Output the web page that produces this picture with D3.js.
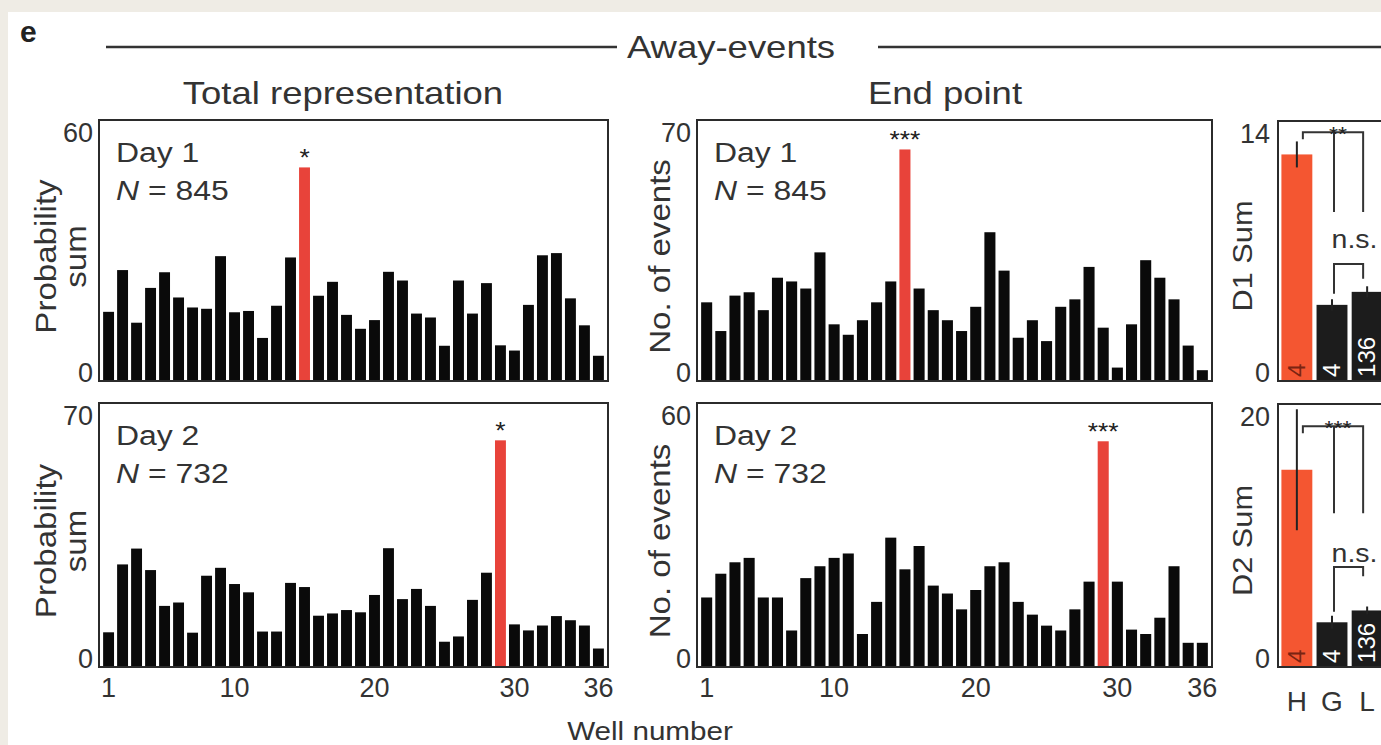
<!DOCTYPE html>
<html>
<head>
<meta charset="utf-8">
<script src="https://cdn.jsdelivr.net/npm/d3@7"></script>
<style>
  html, body { margin: 0; padding: 0; background: #fff; }
  svg { display: block; }
  text { font-family: "Liberation Sans", Arial, Helvetica, sans-serif; fill: #333; }
</style>
</head>
<body>
<script>
// well numbers (categories) and tick labels
const wells = d3.range(1, 37);
const wellTicks = [1, 10, 20, 30, 36];

// away-events, total representation (probability sum)
const totalDay1 = [15.9, 25.5, 13.4, 21.4, 25.0, 19.2, 16.9, 16.6, 28.7, 15.8,
  16.1, 9.9, 17.3, 28.4, 49.1, 19.6, 22.8, 15.2, 12.0, 14.0,
  25.1, 23.1, 15.5, 14.6, 8.1, 23.1, 15.5, 22.5, 8.2, 7.0,
  17.5, 28.9, 29.4, 19.0, 12.8, 5.8];
const totalDay2 = [9.2, 27.2, 31.4, 25.7, 16.2, 17.1, 9.1, 24.2, 26.3, 22.0,
  19.8, 9.4, 9.4, 22.3, 21.2, 13.6, 14.2, 15.1, 14.5, 19.1,
  31.5, 18.0, 20.7, 16.2, 6.7, 8.1, 17.8, 25.0, 60.1, 11.3,
  9.7, 11.0, 13.5, 12.4, 11.0, 4.9];

// away-events, end point (no. of events)
const endDay1 = [21.1, 13.4, 22.9, 23.8, 19.0, 27.7, 26.7, 24.8, 34.5, 15.2,
  12.4, 16.3, 21.1, 26.7, 62.1, 24.8, 19.0, 16.3, 13.4, 19.9,
  39.9, 29.6, 11.6, 16.3, 10.7, 19.9, 21.9, 30.6, 14.3, 3.6,
  15.2, 32.4, 27.7, 21.9, 9.5, 2.9];
const endDay2 = [15.8, 21.2, 23.8, 24.8, 15.8, 15.8, 8.3, 20.2, 22.9, 24.8,
  25.8, 7.5, 14.8, 29.4, 22.2, 27.5, 18.5, 16.7, 13.1, 17.5,
  22.9, 23.8, 14.8, 11.9, 9.4, 8.3, 13.1, 19.4, 51.3, 19.4,
  8.5, 7.5, 11.2, 22.9, 5.5, 5.5];

// summary bars H / G / L
const groups = ["H", "G", "L"];
const groupN = ["4", "4", "136"];
const d1Sum = [12.2, 4.1, 4.8];
const d1Err = [0.7, 0.3, 0.3];
const d2Sum = [15.0, 3.4, 4.3];
const d2Err = [4.6, 0.5, 0.3];

const W = 1381, H = 745;
const black = "#0a0a0a", red = "#e8433a", orange = "#f45631", frameCol = "#2b2b2b";
const SX = 1.14; // the scan's lettering is a bit wider than Liberation Sans

const svg = d3.select("body").append("svg").attr("width", W).attr("height", H);

// text helper: position, optional rotation, horizontal stretch along the text
function label(parent, o) {
  const t = parent.append("text")
    .attr("transform", `translate(${o.x},${o.y}) rotate(${o.rot || 0}) scale(${o.sx || SX},1)`)
    .attr("font-size", o.size)
    .attr("text-anchor", o.anchor || "start");
  if (o.fill) t.style("fill", o.fill);
  if (o.weight) t.attr("font-weight", o.weight);
  if (o.text != null) t.text(o.text);
  return t;
}

// scanned page edge
svg.append("rect").attr("width", W).attr("height", H).attr("fill", "#efece5");
svg.append("rect").attr("x", 8).attr("y", 12).attr("width", W).attr("height", H).attr("fill", "#fff");

// panel label + header
label(svg, {x: 20, y: 42, size: 30, weight: "bold", fill: "#222", text: "e", sx: 1});
svg.append("line").attr("x1", 106).attr("x2", 617).attr("y1", 47).attr("y2", 47)
  .attr("stroke", "#333").attr("stroke-width", 2.5);
svg.append("line").attr("x1", 878).attr("x2", W).attr("y1", 47).attr("y2", 47)
  .attr("stroke", "#333").attr("stroke-width", 2.5);
label(svg, {x: 731, y: 58, size: 32, anchor: "middle", text: "Away-events"});
label(svg, {x: 343, y: 104, size: 32, anchor: "middle", text: "Total representation"});
label(svg, {x: 945, y: 104, size: 32, anchor: "middle", text: "End point"});

function yTicks(g, y, max) {
  g.call(d3.axisLeft(y).tickValues([0, max]).tickSize(0).tickPadding(6))
    .call(a => a.select(".domain").remove());
  g.selectAll("text").attr("font-size", 27).attr("font-family", null).style("fill", "#333")
    .attr("dy", d => d === 0 ? "0.02em" : "0.78em");
}

function drawHist(p) {
  const g = svg.append("g");
  const x = d3.scaleBand().domain(wells).range([p.x0 + 3, p.x1 - 3])
    .paddingInner(0.22).paddingOuter(0.08);
  const y = d3.scaleLinear().domain([0, p.max]).range([p.y1, p.y0]);

  g.selectAll(".bar").data(p.values).enter().append("rect")
    .attr("class", "bar")
    .attr("x", (d, i) => x(wells[i]))
    .attr("y", d => y(d))
    .attr("width", x.bandwidth())
    .attr("height", d => p.y1 - y(d))
    .attr("fill", (d, i) => wells[i] === p.hi ? red : black);

  g.append("rect").attr("x", p.x0).attr("y", p.y0)
    .attr("width", p.x1 - p.x0).attr("height", p.y1 - p.y0)
    .attr("fill", "none").attr("stroke", frameCol).attr("stroke-width", 2);

  // significance stars over highlighted well
  label(g, {x: x(p.hi) + x.bandwidth() / 2, y: y(p.values[p.hi - 1]) - 1, size: 24,
    anchor: "middle", fill: "#222", text: p.stars, sx: 1.1});

  yTicks(g.append("g").attr("transform", `translate(${p.x0},0)`), y, p.max);

  if (p.xAxis) {
    const ax = g.append("g").attr("transform", `translate(0,${p.y1})`)
      .call(d3.axisBottom(x).tickValues(wellTicks).tickSize(0).tickPadding(11));
    ax.select(".domain").remove();
    ax.selectAll("text").attr("font-size", 27).attr("font-family", null).style("fill", "#333");
  }

  label(g, {x: p.x0 + 17, y: p.y0 + 42, size: 28, text: p.day});
  const nt = label(g, {x: p.x0 + 17, y: p.y0 + 80, size: 28});
  nt.append("tspan").attr("font-style", "italic").text("N");
  nt.append("tspan").text(" = " + p.n);

  const cy = (p.y0 + p.y1) / 2 + 6;
  p.title.forEach((t, i) => {
    label(g, {x: p.titleX + i * 30, y: cy, rot: -90, size: 29, anchor: "middle", text: t});
  });
}

drawHist({x0: 99, x1: 608, y0: 120, y1: 381, values: totalDay1, max: 60, hi: 15, stars: "*",
  day: "Day 1", n: "845", title: ["Probability", "sum"], titleX: 56});
drawHist({x0: 99, x1: 608, y0: 403, y1: 667, values: totalDay2, max: 70, hi: 29, stars: "*",
  day: "Day 2", n: "732", title: ["Probability", "sum"], titleX: 56, xAxis: true});
drawHist({x0: 697, x1: 1212, y0: 120, y1: 381, values: endDay1, max: 70, hi: 15, stars: "***",
  day: "Day 1", n: "845", title: ["No. of events"], titleX: 670});
drawHist({x0: 697, x1: 1212, y0: 403, y1: 667, values: endDay2, max: 60, hi: 29, stars: "***",
  day: "Day 2", n: "732", title: ["No. of events"], titleX: 670, xAxis: true});

label(svg, {x: 650, y: 740, size: 26, anchor: "middle", text: "Well number"});

function drawSummary(p) {
  const g = svg.append("g");
  const x = d3.scaleBand().domain(groups).range([p.x0 + 2, p.x0 + 106])
    .paddingInner(0.12).paddingOuter(0.04);
  const y = d3.scaleLinear().domain([0, p.max]).range([p.y1, p.y0]);
  const cx = k => x(k) + x.bandwidth() / 2;

  g.selectAll(".sbar").data(p.values).enter().append("rect")
    .attr("x", (d, i) => x(groups[i]))
    .attr("y", d => y(d))
    .attr("width", x.bandwidth())
    .attr("height", d => p.y1 - y(d))
    .attr("fill", (d, i) => i === 0 ? orange : "#1c1c1c");

  // error bars
  g.selectAll(".err").data(p.values).enter().append("line")
    .attr("x1", (d, i) => cx(groups[i])).attr("x2", (d, i) => cx(groups[i]))
    .attr("y1", (d, i) => y(d + p.err[i])).attr("y2", (d, i) => y(d - p.err[i]))
    .attr("stroke", "#222").attr("stroke-width", 2);

  // n labels inside bars
  groupN.forEach((d, i) => {
    label(g, {x: cx(groups[i]) + 8, y: p.y1 - 4, rot: -90, size: 23, sx: 1.05,
      fill: i === 0 ? "#7a2412" : "#fff", text: d});
  });

  g.append("rect").attr("x", p.x0).attr("y", p.y0)
    .attr("width", W - p.x0 + 10).attr("height", p.y1 - p.y0)
    .attr("fill", "none").attr("stroke", frameCol).attr("stroke-width", 2);

  // significance brackets
  const s = p.sig;
  const gx = cx("G") + 2, lx = cx("L") - 4;
  const path = d3.path();
  path.moveTo(cx("H") + 6, y(s.top) + 7); path.lineTo(cx("H") + 6, y(s.top));
  path.lineTo(lx, y(s.top)); path.lineTo(lx, y(s.leg));
  path.moveTo(gx, y(s.top)); path.lineTo(gx, y(s.leg));
  path.moveTo(gx, y(s.nsLegG)); path.lineTo(gx, y(s.ns));
  path.lineTo(lx, y(s.ns)); path.lineTo(lx, y(s.nsLegL));
  g.append("path").attr("d", path.toString()).attr("fill", "none")
    .attr("stroke", "#333").attr("stroke-width", 2);
  label(g, {x: (cx("H") + cx("L")) / 2 + 6, y: y(s.top) + 9, size: 21, anchor: "middle",
    fill: "#222", text: s.stars, sx: 1.1});
  label(g, {x: (gx + lx) / 2 + 6, y: y(s.nsText) + 8, size: 25, anchor: "middle", text: "n.s."});

  yTicks(g.append("g").attr("transform", `translate(${p.x0 - 2},0)`), y, p.max);

  label(g, {x: 1252, y: (p.y0 + p.y1) / 2 + 5, rot: -90, size: 27, anchor: "middle", text: p.title});

  if (p.xAxis) {
    const ax = g.append("g").attr("transform", `translate(0,${p.y1})`)
      .call(d3.axisBottom(x).tickSize(0).tickPadding(24));
    ax.select(".domain").remove();
    ax.selectAll("text").attr("font-size", 28).attr("font-family", null).style("fill", "#333");
  }
}

drawSummary({x0: 1278, y0: 121, y1: 381, max: 14, values: d1Sum, err: d1Err, title: "D1 Sum",
  sig: {top: 13.4, leg: 9.1, stars: "**", ns: 6.3, nsLegG: 4.7, nsLegL: 5.5, nsText: 7.6}});
drawSummary({x0: 1278, y0: 404, y1: 667, max: 20, values: d2Sum, err: d2Err, title: "D2 Sum", xAxis: true,
  sig: {top: 18.3, leg: 11.7, stars: "***", ns: 7.6, nsLegG: 4.2, nsLegL: 6.9, nsText: 8.6}});
</script>
</body>
</html>
